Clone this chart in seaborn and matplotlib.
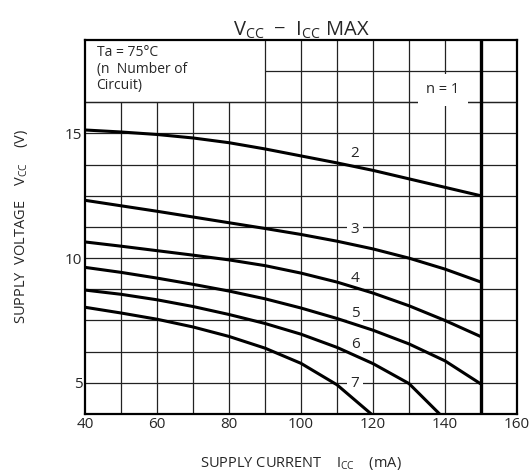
import numpy as np
import pandas as pd
import matplotlib
matplotlib.use('Agg')
import matplotlib.pyplot as plt
import seaborn as sns

sns.set_style('white')
plt.rcParams['font.family'] = ['Open Sans', 'DejaVu Sans']
plt.rcParams['mathtext.default'] = 'regular'

# supply current (mA) and max supply voltage (V) for n = 2..7 circuits
icc_2 = [40, 50, 60, 70, 80, 90, 100, 110, 120, 130, 140, 150]
vcc_2 = [15.14, 15.06, 14.96, 14.82, 14.63, 14.38, 14.1, 13.82, 13.52, 13.18, 12.84, 12.5]
icc_3 = [40, 50, 60, 70, 80, 90, 100, 110, 120, 130, 140, 150]
vcc_3 = [12.32, 12.1, 11.88, 11.65, 11.42, 11.19, 10.95, 10.68, 10.37, 10.0, 9.56, 9.04]
icc_4 = [40, 50, 60, 70, 80, 90, 100, 110, 120, 130, 140, 150]
vcc_4 = [10.65, 10.48, 10.3, 10.12, 9.93, 9.7, 9.4, 9.04, 8.6, 8.09, 7.5, 6.85]
icc_5 = [40, 50, 60, 70, 80, 90, 100, 110, 120, 130, 140, 150]
vcc_5 = [9.63, 9.43, 9.2, 8.95, 8.68, 8.37, 8.0, 7.58, 7.11, 6.56, 5.88, 4.95]
icc_6 = [40, 50, 60, 70, 80, 90, 100, 110, 120, 130, 138.5]
vcc_6 = [8.72, 8.55, 8.33, 8.06, 7.74, 7.38, 6.95, 6.42, 5.77, 4.97, 3.75]
icc_7 = [40, 50, 60, 70, 80, 90, 100, 110, 119.5]
vcc_7 = [8.03, 7.8, 7.55, 7.24, 6.86, 6.39, 5.78, 4.92, 3.75]

# n = 1 limit is the vertical line at 150 mA
icc_limit = 150

curve_labels = ['2', '3', '4', '5', '6', '7']
label_x = 115
label_y = [14.2, 11.15, 9.19, 7.79, 6.52, 4.96]

xticks = [40, 60, 80, 100, 120, 140, 160]
yticks = [5, 10, 15]

frames = []
for n, xs, ys in zip(curve_labels, [icc_2, icc_3, icc_4, icc_5, icc_6, icc_7],
                     [vcc_2, vcc_3, vcc_4, vcc_5, vcc_6, vcc_7]):
    frames.append(pd.DataFrame({'icc': xs, 'vcc': ys, 'n': n}))
df = pd.concat(frames, ignore_index=True)

fig = plt.figure(figsize=(5.3, 4.76), dpi=100)
ax = fig.add_axes([0.1604, 0.1303, 0.8151, 0.7857])

xmin, xmax = 40, 160
ymin, ymax = 3.75, 18.75
ax.set_xlim(xmin, xmax)
ax.set_ylim(ymin, ymax)

gcol = '#222222'
glw = 0.9
# grid, leaving the top-left note box clear
for gx in np.arange(50, 160, 10):
    top = 16.25 if gx < 90 else ymax
    ax.vlines(gx, ymin, top, color=gcol, lw=glw, zorder=1)
for gy in np.arange(5, 16.3, 1.25):
    ax.hlines(gy, xmin, xmax, color=gcol, lw=glw, zorder=1)
ax.hlines(16.25, xmin, xmax, color=gcol, lw=glw, zorder=1)
ax.hlines(17.5, 90, xmax, color=gcol, lw=glw, zorder=1)

sns.lineplot(data=df, x='icc', y='vcc', units='n', estimator=None,
             color='black', lw=2.2, legend=False, ax=ax, zorder=4)
ax.axvline(icc_limit, color='black', lw=2.4, zorder=4)

for t, ty in zip(curve_labels, label_y):
    ax.text(label_x, ty, t, ha='center', va='center', fontsize=11, zorder=3,
            bbox=dict(fc='white', ec='none', pad=2.5))
ax.text(139.4, 16.75, 'n = 1', ha='center', va='center', fontsize=10.5, zorder=3,
        bbox=dict(fc='white', ec='none', pad=6))

ax.text(43.2, 18.55, 'Ta = 75°C\n(n  Number of\nCircuit)', ha='left', va='top',
        fontsize=10, linespacing=1.15, zorder=3)

ax.set_xticks(xticks)
ax.set_yticks(yticks)
ax.tick_params(length=0, labelsize=11, pad=2)
for s in ax.spines.values():
    s.set_color('black')
    s.set_linewidth(1.6)

ax.set_xlabel('SUPPLY CURRENT    I$_{CC}$    (mA)', fontsize=10.5, labelpad=17)
ax.set_ylabel('SUPPLY  VOLTAGE    V$_{CC}$    (V)', fontsize=10.5, labelpad=25)
ax.set_title('V$_{CC}$  −  I$_{CC}$ MAX', fontsize=14.5, pad=3)

fig.savefig('out.png', dpi=100)
